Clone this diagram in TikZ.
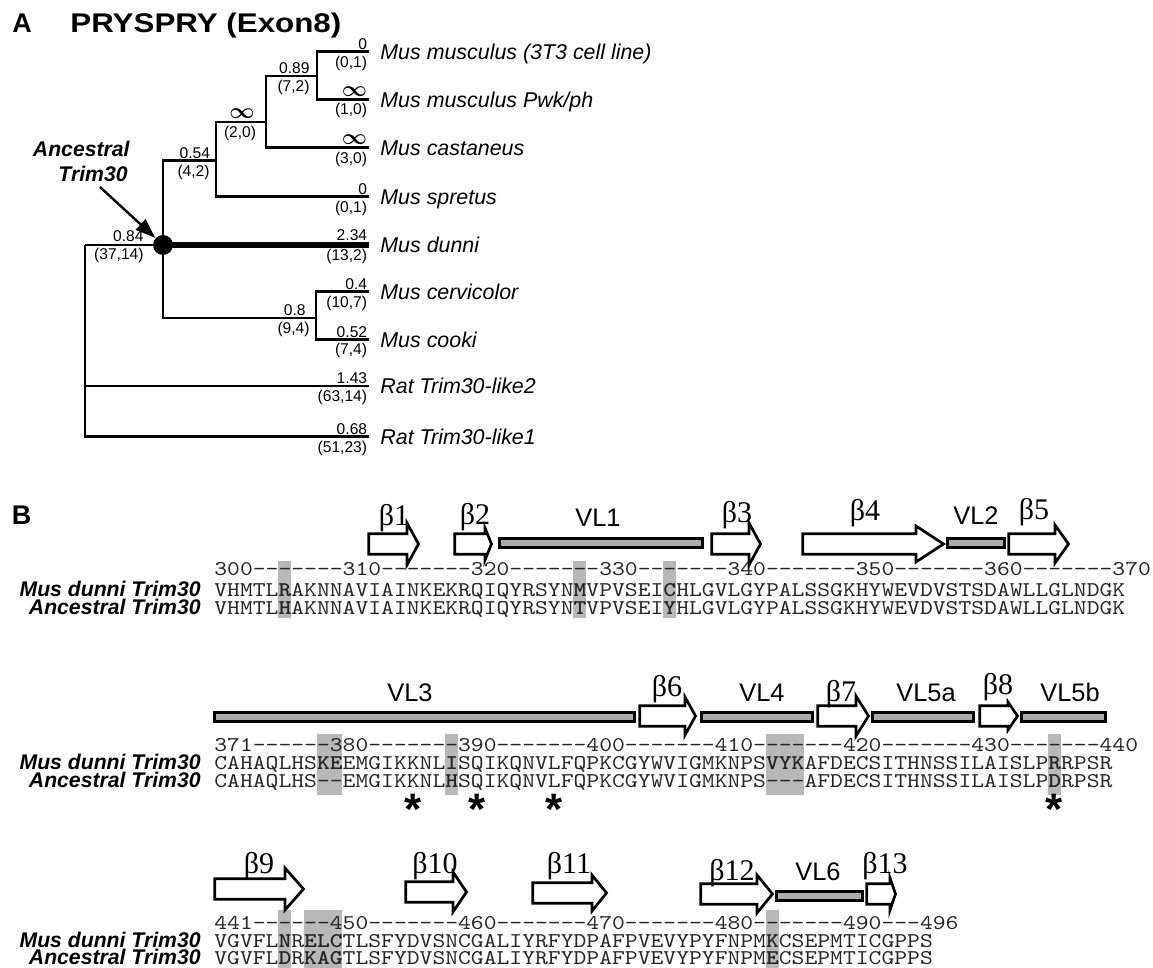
\documentclass[tikz,border=0pt]{standalone}
\usepackage{fontspec}
\usepackage{amsmath}
\usepackage{graphicx}
\usetikzlibrary{arrows.meta}
\newfontfamily\sansf{Liberation Sans}
\newfontfamily\serff{Liberation Serif}
\newcommand\hy{-\kern0pt }
\newcommand\hseven{\hy\hy\hy\hy\hy\hy\hy}
\newcommand\hsix{\hy\hy\hy\hy\hy\hy}
\newcommand\hthree{\hy\hy\hy}
\newcommand\bres[1]{\textbf{#1}}
\newcommand\sq[1]{\scalebox{1.1637}[1]{\ttfamily\fontsize{10.5}{12}\selectfont\color{black!85}#1}}
\newcommand\infsym{$\boldsymbol{\infty}$}
\newcommand\barw[5]{\draw[barr] ({#1+0.7},{#4-10.3}) -- (#2,{#4-10.3}) -- (#2,{#4-#5}) -- ({#3-1.5},#4) -- (#2,{#4+#5}) -- (#2,{#4+10.3}) -- ({#1+0.7},{#4+10.3}) -- cycle;}
\newcommand\vlbar[3]{\draw[vbar] ({#1+0.7},{#3-4.3}) rectangle ({#2-0.7},{#3+4.3});}
\newcommand\hlbox[4]{\fill[hl] ({214+#1*12.83},#3) rectangle ({214+#2*12.83},#4);}
\begin{document}
\begin{tikzpicture}[x=0.5pt,y=-0.5pt,
  br/.style={line width=1.35pt},
  num/.style={font={\sansf\fontsize{7.8}{9}\selectfont},inner sep=0pt,anchor=base east},
  inum/.style={font={\fontsize{10.5}{12}\selectfont},inner sep=0pt,anchor=base east},
  leaf/.style={font={\sansf\itshape\fontsize{10.7}{12}\selectfont},inner sep=0pt,anchor=base west},
  blabel/.style={font={\sansf\bfseries\itshape\fontsize{10.6}{12}\selectfont},inner sep=0pt,anchor=base east},
  seq/.style={inner sep=0pt,anchor=base west},
  vbar/.style={fill=black!33,draw=black,line width=1.35pt},
  barr/.style={fill=white,draw=black,line width=1.35pt,line join=miter},
  hl/.style={fill=black!28},
  blab/.style={font={\serff\fontsize{15}{17}\selectfont},inner sep=0pt,anchor=base},
  vlab/.style={font={\sansf\fontsize{12.7}{14}\selectfont},inner sep=0pt,anchor=base},
  panel/.style={font={\sansf\bfseries\fontsize{13.5}{16}\selectfont},inner sep=0pt,anchor=base west},
  star/.style={font={\sansf\bfseries\fontsize{22}{24}\selectfont},inner sep=0pt,anchor=base}]
\useasboundingbox (0,0) rectangle (1153,968);

% ---------------- Panel A ----------------
\node[panel] (labA) at (12,33) {A};
\node[panel] (title) at (70,33) {\scalebox{1.16}[1]{PRYSPRY (Exon8)}};

\coordinate (root) at (85,245);
\coordinate (ancc) at (163,245);
\coordinate (n54) at (216,160.7);
\coordinate (ninf) at (266,122);
\coordinate (n89) at (317,76);
\coordinate (n8) at (316,318);
\coordinate (l1) at (369,51.7);
\coordinate (l2) at (369,99.3);
\coordinate (l3) at (369,147.7);
\coordinate (l4) at (369,196.7);
\coordinate (l5) at (369,245);
\coordinate (l6) at (369,291.7);
\coordinate (l7) at (369,339.3);
\coordinate (l8) at (369,386);
\coordinate (l9) at (369,436.7);

\draw[br] (root) -- (ancc);
\draw[br] (ancc) |- (n54);
\draw[br] (n54) |- (ninf);
\draw[br] (ninf) |- (n89);
\draw[br] (n89) |- (l1);
\draw[br] (n89) |- (l2);
\draw[br] (ninf) |- (l3);
\draw[br] (n54) |- (l4);
\draw[line width=3.2pt] (ancc) -- (l5);
\draw[br] (ancc) |- (n8);
\draw[br] (n8) |- (l6);
\draw[br] (n8) |- (l7);
\draw[br] (root) |- (l8);
\draw[br] (root) |- (l9);

\node[circle,fill=black,inner sep=0pt,minimum size=10pt] (anc) at (ancc) {};

% leaf labels
\node[leaf] (t1) at (380,59.7) {Mus musculus (3T3 cell line)};
\node[leaf] (t2) at (380,107.3) {Mus musculus Pwk/ph};
\node[leaf] (t3) at (380,155.7) {Mus castaneus};
\node[leaf] (t4) at (380,204.7) {Mus spretus};
\node[leaf] (t5) at (380,253) {Mus dunni};
\node[leaf] (t6) at (380,299.7) {Mus cervicolor};
\node[leaf] (t7) at (380,347.3) {Mus cooki};
\node[leaf] (t8) at (380,394) {Rat Trim30-like2};
\node[leaf] (t9) at (380,444.7) {Rat Trim30-like1};

% branch values
\node[num] (v1) at (367.5,49.7) {0};
\node[num] (c1) at (367.5,67.2) {(0,1)};
\node[inum] (v2) at (367.5,96.3) {\infsym};
\node[num] (c2) at (367.5,114.8) {(1,0)};
\node[inum] (v3) at (367.5,144.7) {\infsym};
\node[num] (c3) at (367.5,163.2) {(3,0)};
\node[num] (v4) at (367.5,194.7) {0};
\node[num] (c4) at (367.5,212.2) {(0,1)};
\node[num] (v5) at (367.5,241) {2.34};
\node[num] (c5) at (367.5,261) {(13,2)};
\node[num] (v6) at (367.5,289.7) {0.4};
\node[num] (c6) at (367.5,307.2) {(10,7)};
\node[num] (v7) at (367.5,337.3) {0.52};
\node[num] (c7) at (367.5,354.8) {(7,4)};
\node[num] (v8) at (367.5,384) {1.43};
\node[num] (c8) at (367.5,401.5) {(63,14)};
\node[num] (v9) at (367.5,434.7) {0.68};
\node[num] (c9) at (367.5,452.2) {(51,23)};
\node[num] (v89) at (310,74) {0.89};
\node[num] (c89) at (310,91.5) {(7,2)};
\node[inum] (vinf) at (255,119) {\infsym};
\node[num] (cinf) at (256.5,137.5) {(2,0)};
\node[num] (v54) at (210.5,158.7) {0.54};
\node[num] (c54) at (210,176.2) {(4,2)};
\node[num] (v84) at (144,242) {0.84};
\node[num] (c84) at (144,260) {(37,14)};
\node[num] (v8b) at (306,316) {0.8};
\node[num] (c8b) at (310,333.5) {(9,4)};

% ancestral label and arrow
\node[blabel] (anl1) at (130,157) {Ancestral};
\node[blabel] (anl2) at (128,182) {Trim30};
\coordinate (arrs) at (100,187);
\draw[line width=1.2pt,-{Triangle[length=10pt,width=7pt]}] (arrs) -- (anc);

% ---------------- Panel B ----------------
\node[panel] (labB) at (11.5,525) {B};

% highlight boxes
\hlbox{5}{6}{561}{618}
\hlbox{28}{29}{561}{618}
\hlbox{35}{36}{561}{618}
\hlbox{8}{10}{734}{795}
\hlbox{18}{19}{734}{795}
\hlbox{43}{46}{734}{795}
\hlbox{65}{66}{734}{795}
\hlbox{5}{6}{910}{968}
\hlbox{7}{10}{910}{968}
\hlbox{43}{44}{910}{968}

% row 1
\node[seq] (r1n) at (214,575.2) {\sq{300\hseven 310\hseven 320\hseven 330\hseven 340\hseven 350\hseven 360\hseven 370}};
\node[seq] (r1a) at (214,596.3) {\sq{VHMTL\bres{R}AKNNAVIAINKEKRQIQYRSYN\bres{M}VPVSEI\bres{C}HLGVLGYPALSSGKHYWEVDVSTSDAWLLGLNDGK}};
\node[seq] (r1b) at (214,614.8) {\sq{VHMTL\bres{H}AKNNAVIAINKEKRQIQYRSYN\bres{T}VPVSEI\bres{Y}HLGVLGYPALSSGKHYWEVDVSTSDAWLLGLNDGK}};
\node[blabel] (r1la) at (201,596.3) {Mus dunni Trim30};
\node[blabel] (r1lb) at (201,614.8) {Ancestral Trim30};

% row 2
\node[seq] (r2n) at (214,751) {\sq{371\hsix 380\hseven 390\hseven 400\hseven 410\hseven 420\hseven 430\hseven 440}};
\node[seq] (r2a) at (214,769.3) {\sq{CAHAQLHS\bres{KE}EMGIKKNL\bres{I}SQIKQNVLFQPKCGYWVIGMKNPS\bres{VYK}AFDECSITHNSSILAISLP\bres{R}RPSR}};
\node[seq] (r2b) at (214,787.5) {\sq{CAHAQLHS\hy\hy EMGIKKNL\bres{H}SQIKQNVLFQPKCGYWVIGMKNPS\hthree AFDECSITHNSSILAISLP\bres{D}RPSR}};
\node[blabel] (r2la) at (201,769.3) {Mus dunni Trim30};
\node[blabel] (r2lb) at (201,787.5) {Ancestral Trim30};

% row 3
\node[seq] (r3n) at (214,929.5) {\sq{441\hsix 450\hseven 460\hseven 470\hseven 480\hseven 490\hthree 496}};
\node[seq] (r3a) at (214,947.2) {\sq{VGVFL\bres{N}R\bres{ELC}TLSFYDVSNCGALIYRFYDPAFPVEVYPYFNPM\bres{K}CSEPMTICGPPS}};
\node[seq] (r3b) at (214,964.8) {\sq{VGVFL\bres{D}R\bres{KAG}TLSFYDVSNCGALIYRFYDPAFPVEVYPYFNPM\bres{E}CSEPMTICGPPS}};
\node[blabel] (r3la) at (201,947.2) {Mus dunni Trim30};
\node[blabel] (r3lb) at (201,964.8) {Ancestral Trim30};

% asterisks
\node[star] (s1) at (413,824) {*};
\node[star] (s2) at (477,824) {*};
\node[star] (s3) at (554,824) {*};
\node[star] (s4) at (1054,824) {*};

% secondary structure row 1
\barw{368}{407}{420}{544}{21}
\barw{454}{485}{493}{544}{16}
\vlbar{499}{703}{543}
\barw{711}{749}{762}{544}{21}
\barw{802}{916}{945}{544}{18}
\vlbar{947}{1005}{543}
\barw{1008}{1055}{1070}{544}{19}
\node[blab] (b1) at (394,526) {β1};
\node[blab] (b2) at (475,525) {β2};
\node[vlab] (vl1) at (598,527) {VL1};
\node[blab] (b3) at (737,523) {β3};
\node[blab] (b4) at (865,521) {β4};
\node[vlab] (vl2) at (976,525) {VL2};
\node[blab] (b5) at (1034,520) {β5};

% row 2
\vlbar{214}{635}{717}
\barw{639}{685}{697}{716}{19}
\vlbar{701}{813}{717}
\barw{817}{856}{870}{716}{20}
\vlbar{872}{974}{717}
\barw{979}{1008}{1019}{716}{14}
\vlbar{1021}{1106}{717}
\node[vlab] (vl3) at (410,701.5) {VL3};
\node[blab] (b6) at (667,697) {β6};
\node[vlab] (vl4) at (762,701.5) {VL4};
\node[blab] (b7) at (841,701.5) {β7};
\node[vlab] (vl5a) at (926,701.5) {VL5a};
\node[blab] (b8) at (998,695) {β8};
\node[vlab] (vl5b) at (1070,701.5) {VL5b};

% row 3
\barw{214}{285}{305}{889}{21}
\barw{405}{453}{468}{892}{20}
\barw{532}{592}{608}{893}{18}
\barw{700}{757}{774}{894}{19}
\vlbar{776}{863}{896}
\barw{866}{890}{897}{894}{16}
\node[blab] (b9) at (259,873) {β9};
\node[blab] (b10) at (435,873) {β10};
\node[blab] (b11) at (569,873) {β11};
\node[blab] (b12) at (732,880) {β12};
\node[vlab] (vl6) at (818,880) {VL6};
\node[blab] (b13) at (885,873) {β13};
\end{tikzpicture}
\end{document}
